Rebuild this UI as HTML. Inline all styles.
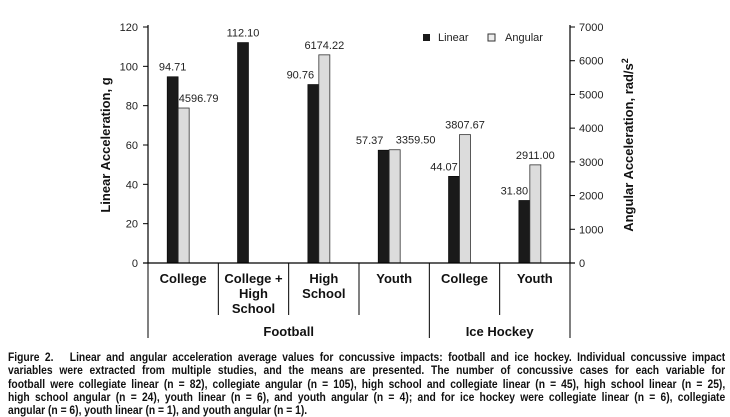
<!DOCTYPE html>
<html><head><meta charset="utf-8"><style>
body{margin:0;background:#fff;width:730px;height:416px;overflow:hidden;font-family:"Liberation Sans",sans-serif}
#cap{position:absolute;left:8px;top:351px;width:815px;transform:scaleX(0.88);transform-origin:0 0;font-weight:bold;font-size:11.7px;line-height:13.3px;color:#111}
#cap div{text-align:justify;text-align-last:justify;white-space:nowrap}
#cap div.last{text-align-last:left}
</style></head><body>
<svg id="chart" width="730" height="350" style="position:absolute;left:0;top:0" font-family="Liberation Sans, sans-serif"></svg>
<div id="cap">
<div>Figure 2.&nbsp;&nbsp; Linear and angular acceleration average values for concussive impacts: football and ice hockey. Individual concussive impact</div>
<div>variables were extracted from multiple studies, and the means are presented. The number of concussive cases for each variable for</div>
<div>football were collegiate linear (n = 82), collegiate angular (n = 105), high school and collegiate linear (n = 45), high school linear (n = 25),</div>
<div>high school angular (n = 24), youth linear (n = 6), and youth angular (n = 4); and for ice hockey were collegiate linear (n = 6), collegiate</div>
<div class="last">angular (n = 6), youth linear (n = 1), and youth angular (n = 1).</div>
</div>
<script>
const categories=[["College"],["College +","High","School"],["High","School"],["Youth"],["College"],["Youth"]];
const linearValues=[94.71,112.10,90.76,57.37,44.07,31.80];
const angularValues=[4596.79,null,6174.22,3359.50,3807.67,2911.00];
const linearLabels=["94.71","112.10","90.76","57.37","44.07","31.80"];
const angularLabels=["4596.79","","6174.22","3359.50","3807.67","2911.00"];
const leftTicks=[0,20,40,60,80,100,120];
const rightTicks=[0,1000,2000,3000,4000,5000,6000,7000];
const groups=[["Football",0,4],["Ice Hockey",4,6]];
// label nudges (styling only)
const linNudge=[0,0,-13,-14,-10,-10];
const angNudge=[15,0,0,21,0,0];

const svg=document.getElementById('chart');
const NS='http://www.w3.org/2000/svg';
const X0=148,X1=570,Y0=263,Y1=27;
const catW=(X1-X0)/categories.length;
const yL=v=>Y0-(v/120)*(Y0-Y1);
const yR=v=>Y0-(v/7000)*(Y0-Y1);
const cx=i=>X0+catW*(i+0.5);
function el(t,a,txt){const e=document.createElementNS(NS,t);for(const k in a)e.setAttribute(k,a[k]);if(txt!=null)e.textContent=txt;svg.appendChild(e);return e;}

linearValues.forEach((v,i)=>{
 const r=el('rect',{x:cx(i)-16,y:yL(v),width:11,height:Y0-yL(v),fill:'#1a1a1a',stroke:'#000','stroke-width':0.6});
 
 
 const t=el('text',{x:cx(i)-10.5+linNudge[i],y:yL(v)-6,'font-size':11,'text-anchor':'middle',fill:'#222'},linearLabels[i]);
 
 
});
angularValues.forEach((v,i)=>{
 if(v==null)return;
 const r=el('rect',{x:cx(i)-5,y:yR(v),width:11,height:Y0-yR(v),fill:'#dcdcdc',stroke:'#333','stroke-width':0.8});
 
 
 const t=el('text',{x:cx(i)+0.5+angNudge[i],y:yR(v)-6,'font-size':11,'text-anchor':'middle',fill:'#222'},angularLabels[i]);
 
 
});
el('line',{x1:X0,y1:Y1-2,x2:X0,y2:Y0,stroke:'#000','stroke-width':1.2});
el('line',{x1:X1,y1:Y1-2,x2:X1,y2:Y0,stroke:'#000','stroke-width':1.2});
el('line',{x1:X0-5,y1:Y0,x2:X1+5,y2:Y0,stroke:'#000','stroke-width':1.2});
leftTicks.forEach(v=>{
 el('line',{x1:X0-5,y1:yL(v),x2:X0,y2:yL(v),stroke:'#000'});
 const t=el('text',{x:X0-10,y:yL(v)+4,'font-size':11,'text-anchor':'end',fill:'#222'},v);
 
 
});
rightTicks.forEach(v=>{
 el('line',{x1:X1,y1:yR(v),x2:X1+5,y2:yR(v),stroke:'#000'});
 const t=el('text',{x:X1+9,y:yR(v)+4,'font-size':11,'text-anchor':'start',fill:'#222'},v);
 
 
});
for(let i=0;i<=categories.length;i++){
 const x=X0+catW*i;
 const outer=(i===0||i===categories.length||i===4);
 el('line',{x1:x,y1:Y0,x2:x,y2:outer?338:315,stroke:'#000','stroke-width':1});
}
categories.forEach((c,i)=>{
 c.forEach((s,j)=>{
  const t=el('text',{x:cx(i),y:283+j*15,'font-size':13,'font-weight':'bold','text-anchor':'middle',fill:'#111'},s);
  
  
 });
});
groups.forEach(g=>{
 const x=(X0+catW*g[1]+X0+catW*g[2])/2;
 const t=el('text',{x:x,y:336,'font-size':13,'font-weight':'bold','text-anchor':'middle',fill:'#111'},g[0]);
 
 
});
let t=el('text',{x:0,y:0,'font-size':13,'font-weight':'bold','text-anchor':'middle',fill:'#111',transform:'translate(110,145) rotate(-90)'},'Linear Acceleration, g');


t=el('text',{x:0,y:0,'font-size':13,'font-weight':'bold','text-anchor':'middle',fill:'#111',transform:'translate(633,145) rotate(-90)'});
t.innerHTML='Angular Acceleration, rad/s<tspan dy="-5" font-size="9">2</tspan>';


let r=el('rect',{x:423,y:34,width:7,height:7,fill:'#1a1a1a'});


t=el('text',{x:438,y:41,'font-size':11,fill:'#222'},'Linear');


r=el('rect',{x:488,y:34,width:7,height:7,fill:'#eee',stroke:'#333'});


t=el('text',{x:505,y:41,'font-size':11,fill:'#222'},'Angular');


</script>
</body></html>
